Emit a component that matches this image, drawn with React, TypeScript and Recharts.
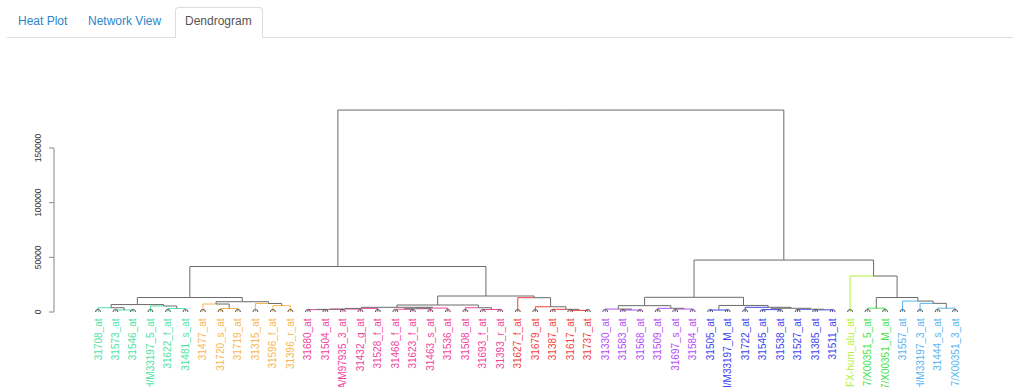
import React from 'react';
import { ComposedChart, Line, Scatter, XAxis, YAxis, ReferenceLine } from 'recharts';

// leaves, in plotting order
const leafNames = [
  '31708_at', '31573_at', '31546_at', 'AFFX-HUMGAPDH/M33197_5_at', '31622_f_at', '31481_s_at',
  '31477_at', '31720_s_at', '31719_at', '31315_at', '31596_f_at', '31396_r_at',
  '31680_at', '31504_at', 'AFFX-HUMISGF3A/M97935_3_at', '31432_g_at', '31528_f_at', '31468_f_at',
  '31623_f_at', '31463_s_at', '31536_at', '31508_at', '31693_f_at', '31393_r_at',
  '31627_f_at', '31679_at', '31387_at', '31617_at', '31737_at',
  '31330_at', '31583_at', '31568_at', '31509_at', '31697_s_at', '31584_at',
  '31505_at', 'AFFX-HUMGAPDH/M33197_M_at', '31722_at', '31545_at', '31538_at', '31527_at', '31385_at', '31511_at',
  'AFFX-hum_alu_at', 'AFFX-HSAC07/X00351_5_at', 'AFFX-HSAC07/X00351_M_at',
  '31557_at', 'AFFX-HUMGAPDH/M33197_3_at', '31444_s_at', 'AFFX-HSAC07/X00351_3_at',
];

const leafGroups = [
  0, 0, 0, 0, 0, 0,
  1, 1, 1, 1, 1, 1,
  2, 2, 2, 2, 2, 2, 2, 2, 2, 2, 2, 2,
  3, 3, 3, 3, 3,
  4, 4, 4, 4, 4, 4,
  5, 5, 5, 5, 5, 5, 5, 5,
  6, 7, 7,
  8, 8, 8, 8,
];

const groupColors = ['#4ee3a5', '#f7b652', '#f0449d', '#f33f3f', '#b44ef4', '#3c46ef', '#b3ef3e', '#47e34a', '#56b5f1'];

// hclust-style merges: negative = leaf (-1 is leaf 0), positive = earlier merge (1-based), then height
const merges: [number, number, number][] = [
  [-2, -3, 1800],
  [-1, 1, 3900],
  [-5, -6, 3200],
  [-4, 3, 5500],
  [2, 4, 6800],
  [-8, -9, 3200],
  [-7, 6, 7300],
  [-11, -12, 5800],
  [-10, 8, 7800],
  [7, 9, 9400],
  [5, 10, 13260],
  [-13, -14, 2200],
  [12, -15, 2400],
  [13, -16, 2700],
  [14, -17, 3300],
  [-18, -19, 2500],
  [16, -20, 3000],
  [17, -21, 3600],
  [15, 18, 4300],
  [-23, -24, 2300],
  [-22, 20, 3900],
  [19, 21, 6400],
  [-28, -29, 1500],
  [-27, 23, 2450],
  [-26, 24, 4800],
  [-25, 25, 13080],
  [22, 26, 14630],
  [11, 27, 41600],
  [-31, -32, 1800],
  [-30, 29, 2700],
  [-34, -35, 2700],
  [-33, 31, 3400],
  [30, 32, 5800],
  [-36, -37, 1800],
  [-39, -40, 2200],
  [-42, -43, 2000],
  [-41, 36, 2500],
  [35, 37, 3400],
  [-38, 38, 4300],
  [34, 39, 6000],
  [33, 40, 13440],
  [-45, -46, 3500],
  [-49, -50, 3500],
  [-48, 43, 7900],
  [-47, 44, 10000],
  [42, 45, 13260],
  [-44, 46, 32900],
  [41, 47, 47500],
  [28, 48, 184700],
];

const yTicks = [0, 50000, 100000, 150000];
const tabs = ['Heat Plot', 'Network View', 'Dendrogram'];

const X_MIN = -2.516;
const X_MAX = 52;
const LINK = '#6b6b6b';

type Edge = { color: string; pts: { x: number; y: number }[] };

function buildEdges(): Edge[] {
  const nodeX: number[] = [];
  const nodeH: number[] = [];
  const edges: Edge[] = [];
  const pos = (ref: number) =>
    ref < 0
      ? { x: -ref - 1, h: 0, color: groupColors[leafGroups[-ref - 1]] }
      : { x: nodeX[ref - 1], h: nodeH[ref - 1], color: LINK };
  merges.forEach(([a, b, h], k) => {
    const A = pos(a);
    const B = pos(b);
    nodeX[k] = (A.x + B.x) / 2;
    nodeH[k] = h;
    [A, B].forEach((c) => {
      edges.push({
        color: c.color,
        pts: [
          { x: nodeX[k], y: h },
          { x: c.x, y: h },
          { x: c.x, y: c.h },
        ],
      });
    });
  });
  return edges;
}

const edges = buildEdges();
const leafPoints = leafNames.map((_, i) => ({ x: i, y: 0 }));
const leafIdx = leafNames.map((_, i) => i);

const LeafTick = (props: any) => {
  const { x, y, payload } = props;
  const i = payload.value as number;
  return (
    <text
      transform={`translate(${x},${y - 1.5}) rotate(-90)`}
      textAnchor="end"
      dy="0.35em"
      fontSize={10}
      fill={groupColors[leafGroups[i]]}
      fontFamily="'Liberation Sans', Arial, sans-serif"
    >
      {leafNames[i]}
    </text>
  );
};

const HeightTick = (props: any) => {
  const { y, payload } = props;
  return (
    <text
      transform={`translate(38,${y}) rotate(-90)`}
      textAnchor="middle"
      dy="0.35em"
      fontSize={8.5}
      fill="#333"
      fontFamily="'Liberation Sans', Arial, sans-serif"
    >
      {payload.value}
    </text>
  );
};

const Circle = (props: any) => (
  <circle cx={props.cx} cy={props.cy} r={2.5} fill="none" stroke="#555" strokeWidth={1} />
);

const tabLeft = [18, 88, 185];

export default function App() {
  return (
    <div style={{ position: 'absolute', left: 0, top: 0, width: 1013, height: 387, overflow: 'hidden', background: '#fff' }}>
      <div style={{ position: 'absolute', left: 7, right: 0, top: 37, height: 1, background: '#ddd' }} />
      <div
        style={{
          position: 'absolute', left: 175, top: 7, width: 88, height: 31,
          border: '1px solid #ddd', borderBottom: 'none', borderRadius: '4px 4px 0 0',
          background: '#fff', boxSizing: 'border-box',
        }}
      />
      {tabs.map((t, i) => (
        <div
          key={t}
          style={{
            position: 'absolute', left: tabLeft[i], top: 14, fontSize: 12, lineHeight: '15px',
            fontFamily: "'Liberation Sans', Arial, sans-serif",
            color: i === 2 ? '#555' : '#2b87c9',
          }}
        >
          {t}
        </div>
      ))}
      <div style={{ position: 'absolute', left: 0, top: 0 }}>
        <ComposedChart width={1013} height={387} margin={{ top: 93.33, right: 5.5, left: 0, bottom: 0 }}>
          <XAxis
            type="number"
            dataKey="x"
            domain={[X_MIN, X_MAX]}
            allowDataOverflow
            ticks={leafIdx}
            interval={0}
            axisLine={false}
            tickLine={false}
            height={75}
            tick={<LeafTick />}
          />
          <YAxis
            type="number"
            dataKey="y"
            domain={[0, 200000]}
            allowDataOverflow
            ticks={yTicks}
            width={54}
            axisLine={false}
            tickSize={5}
            tickLine={{ stroke: '#888' }}
            tick={<HeightTick />}
          />
          <ReferenceLine
            segment={[{ x: X_MIN, y: 0 }, { x: X_MIN, y: 150000 }]}
            stroke="#888"
            ifOverflow="visible"
          />
          {edges.map((e, i) => (
            <Line
              key={`edge-${i}`}
              data={e.pts}
              dataKey="y"
              stroke={e.color}
              strokeWidth={1}
              dot={false}
              activeDot={false}
              isAnimationActive={false}
              legendType="none"
            />
          ))}
          <Scatter data={leafPoints} dataKey="y" shape={<Circle />} isAnimationActive={false} />
        </ComposedChart>
      </div>
    </div>
  );
}
